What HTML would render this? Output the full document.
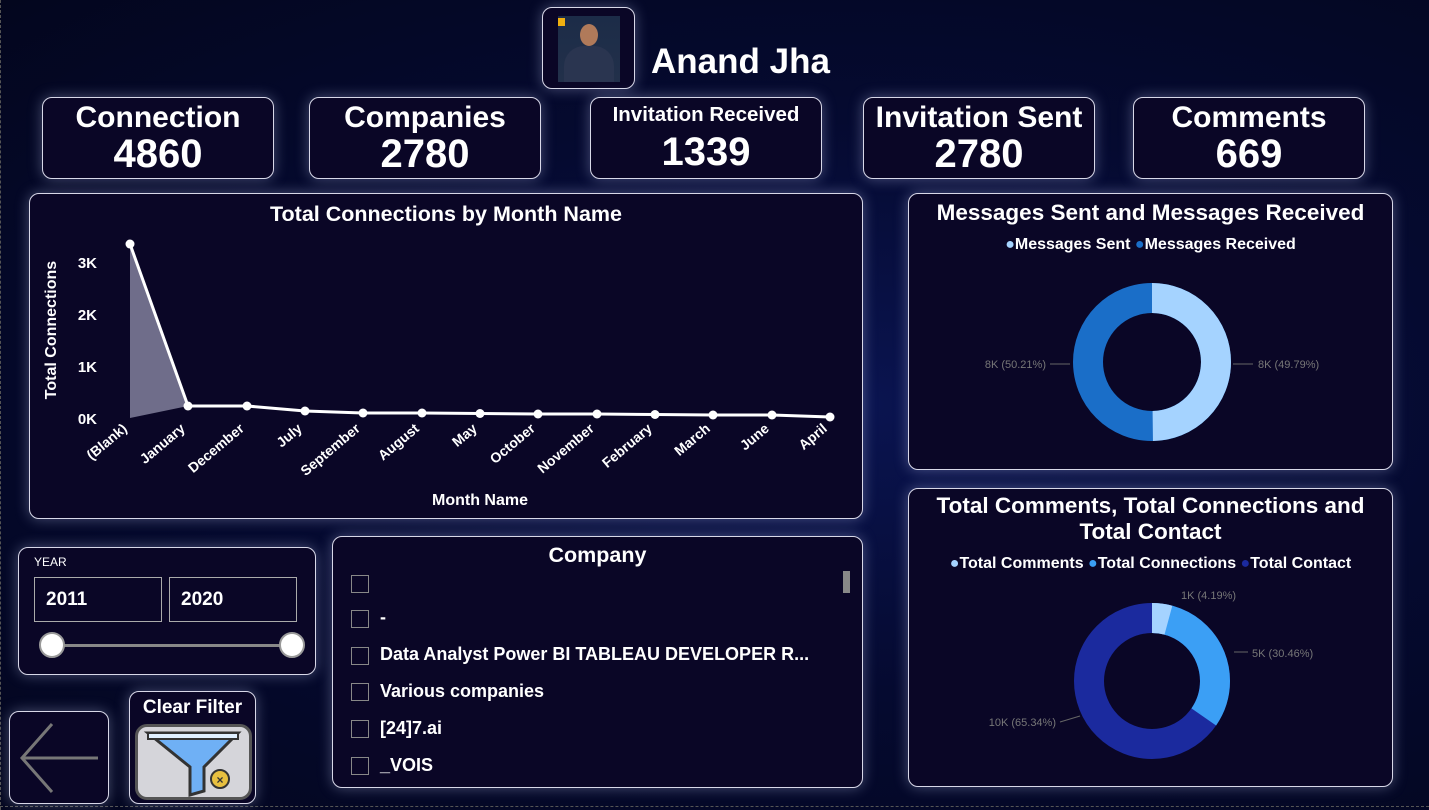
<!DOCTYPE html>
<html><head><meta charset="utf-8"><style>
*{box-sizing:border-box;margin:0;padding:0}
body{width:1429px;height:810px;overflow:hidden;background:radial-gradient(ellipse at 60% 50%,#0a1450 0%,#050a30 50%,#03061e 100%);font-family:"Liberation Sans",sans-serif;color:#fff;position:relative}
.p{position:absolute;background:#0a0626;border:1.5px solid #d8d8e8;border-radius:10px;box-shadow:0 0 14px rgba(200,210,255,0.35)}
.card{text-align:center;font-weight:bold}
.card .t{font-size:30px;margin-top:3px;white-space:nowrap}
.card .v{font-size:40px;line-height:38px}
.ttl{position:absolute;width:100%;text-align:center;font-weight:bold;font-size:21.5px}
.cb{position:absolute;left:351px;width:18px;height:18px;border:1.5px solid #888}
.it{position:absolute;left:380px;font-size:18px;font-weight:bold}
</style></head><body>
<div style="position:absolute;left:0;top:0;width:1px;height:810px;border-left:1px dashed #555"></div>
<div style="position:absolute;left:0;top:806px;width:1429px;border-top:1px dashed #555"></div>
<div class="p" style="left:542px;top:7px;width:93px;height:82px">
<div style="position:absolute;left:15px;top:8px;width:62px;height:66px;background:linear-gradient(#1c2c48,#22304a);overflow:hidden">
<div style="position:absolute;left:22px;top:8px;width:18px;height:22px;border-radius:50%;background:#b07a5a"></div>
<div style="position:absolute;left:6px;top:30px;width:50px;height:40px;border-radius:20px 20px 0 0;background:#2a3550"></div>
<div style="position:absolute;left:0;top:2px;width:7px;height:8px;background:#f0b010"></div></div></div>
<div style="position:absolute;left:651px;top:42px;font-size:35px;font-weight:bold">Anand Jha</div>

<div class="p card" style="left:42px;top:97px;width:232px;height:82px"><div class="t">Connection</div><div class="v">4860</div></div>
<div class="p card" style="left:309px;top:97px;width:232px;height:82px"><div class="t">Companies</div><div class="v">2780</div></div>
<div class="p card" style="left:590px;top:97px;width:232px;height:82px"><div class="t" style="font-size:20.5px;margin-top:5px">Invitation Received</div><div class="v" style="margin-top:6px">1339</div></div>
<div class="p card" style="left:863px;top:97px;width:232px;height:82px"><div class="t">Invitation Sent</div><div class="v">2780</div></div>
<div class="p card" style="left:1133px;top:97px;width:232px;height:82px"><div class="t">Comments</div><div class="v">669</div></div>

<div class="p" style="left:29px;top:193px;width:834px;height:326px">
<div class="ttl" style="top:8px">Total Connections by Month Name</div></div>
<svg style="position:absolute;left:0;top:0" width="1429" height="810">
<g font-family="Liberation Sans" font-weight="bold" fill="#fff" font-size="15">
<text x="97" y="268" text-anchor="end">3K</text><text x="97" y="320" text-anchor="end">2K</text><text x="97" y="372" text-anchor="end">1K</text><text x="97" y="424" text-anchor="end">0K</text>
<text transform="translate(56,330) rotate(-90)" text-anchor="middle" font-size="16">Total Connections</text>
<text x="480" y="505" text-anchor="middle" font-size="16">Month Name</text>
</g>
<polygon fill="#6f6d8a" points="130,244 188,406 130,418"/>
<polyline fill="none" stroke="#fff" stroke-width="3" points="130,244 188,406 247,406 305,411 363,413 422,413 480,413.5 538,414 597,414 655,414.5 713,415 772,415 830,417"/>
<g fill="#fff"><circle cx="130" cy="244" r="4.5"/><circle cx="188" cy="406" r="4.5"/><circle cx="247" cy="406" r="4.5"/><circle cx="305" cy="411" r="4.5"/><circle cx="363" cy="413" r="4.5"/><circle cx="422" cy="413" r="4.5"/><circle cx="480" cy="413.5" r="4.5"/><circle cx="538" cy="414" r="4.5"/><circle cx="597" cy="414" r="4.5"/><circle cx="655" cy="414.5" r="4.5"/><circle cx="713" cy="415" r="4.5"/><circle cx="772" cy="415" r="4.5"/><circle cx="830" cy="417" r="4.5"/></g>
<g font-family="Liberation Sans" font-weight="bold" fill="#fff" font-size="14" text-anchor="end">
<text transform="translate(128,430) rotate(-40)">(Blank)</text><text transform="translate(186,430) rotate(-40)">January</text><text transform="translate(245,430) rotate(-40)">December</text><text transform="translate(303,430) rotate(-40)">July</text><text transform="translate(361,430) rotate(-40)">September</text><text transform="translate(420,430) rotate(-40)">August</text><text transform="translate(478,430) rotate(-40)">May</text><text transform="translate(536,430) rotate(-40)">October</text><text transform="translate(595,430) rotate(-40)">November</text><text transform="translate(653,430) rotate(-40)">February</text><text transform="translate(711,430) rotate(-40)">March</text><text transform="translate(770,430) rotate(-40)">June</text><text transform="translate(828,430) rotate(-40)">April</text>
</g>
</svg>

<div class="p" style="left:908px;top:193px;width:485px;height:277px">
<div class="ttl" style="top:6px;font-size:22.5px">Messages Sent and Messages Received</div>
<div style="position:absolute;top:42px;width:100%;text-align:center;font-size:16px;font-weight:bold"><span style="color:#a5d3ff">●</span>Messages Sent <span style="color:#1a6ec8">●</span>Messages Received</div></div>
<div class="p" style="left:908px;top:488px;width:485px;height:299px">
<div class="ttl" style="top:4px;line-height:26px;font-size:22.5px">Total Comments, Total Connections and<br>Total Contact</div>
<div style="position:absolute;top:66px;width:100%;text-align:center;font-size:16px;font-weight:bold"><span style="color:#a5d3ff">●</span>Total Comments <span style="color:#3b9ff5">●</span>Total Connections <span style="color:#1b2a9e">●</span>Total Contact</div></div>
<svg style="position:absolute;left:0;top:0" width="1429" height="810">
<g fill="none" stroke-width="30">
<circle cx="1152" cy="362" r="64" stroke="#1a6ec8"/>
<circle cx="1152" cy="362" r="64" stroke="#a5d3ff" stroke-dasharray="200.2 402.1" transform="rotate(-90 1152 362)"/>
<circle cx="1152" cy="681" r="63" stroke="#1b2a9e"/>
<circle cx="1152" cy="681" r="63" stroke="#3b9ff5" stroke-dasharray="137.1 395.8" transform="rotate(-90 1152 681)"/>
<circle cx="1152" cy="681" r="63" stroke="#a5d3ff" stroke-dasharray="16.6 395.8" transform="rotate(-90 1152 681)"/>
</g>
<g font-family="Liberation Sans" font-size="11" fill="#777">
<text x="1258" y="368">8K (49.79%)</text><text x="1046" y="368" text-anchor="end">8K (50.21%)</text>
<text x="1181" y="599">1K (4.19%)</text><text x="1252" y="657">5K (30.46%)</text><text x="1056" y="726" text-anchor="end">10K (65.34%)</text>
</g>
<g stroke="#666" fill="none"><line x1="1233" y1="364" x2="1253" y2="364"/><line x1="1050" y1="364" x2="1070" y2="364"/><line x1="1234" y1="652" x2="1248" y2="652"/><line x1="1060" y1="722" x2="1080" y2="716"/></g>
</svg>

<div class="p" style="left:18px;top:547px;width:298px;height:128px">
<div style="position:absolute;left:15px;top:7px;font-size:12px">YEAR</div>
<div style="position:absolute;left:15px;top:29px;width:128px;height:45px;border:1px solid #aaa;font-size:19px;font-weight:bold;padding:11px 0 0 11px">2011</div>
<div style="position:absolute;left:150px;top:29px;width:128px;height:45px;border:1px solid #aaa;font-size:19px;font-weight:bold;padding:11px 0 0 11px">2020</div>
<div style="position:absolute;left:32px;top:96px;width:242px;height:3px;background:#888"></div>
<div style="position:absolute;left:20px;top:84px;width:26px;height:26px;border-radius:50%;background:#fff;border:2px solid #999"></div>
<div style="position:absolute;left:260px;top:84px;width:26px;height:26px;border-radius:50%;background:#fff;border:2px solid #999"></div>
</div>

<div class="p" style="left:332px;top:536px;width:531px;height:252px">
<div class="ttl" style="top:6px">Company</div>
<div style="position:absolute;left:510px;top:34px;width:7px;height:22px;background:#888"></div></div>
<div class="cb" style="top:575px"></div>
<div class="cb" style="top:610px"></div><div class="it" style="top:607px">-</div>
<div class="cb" style="top:647px"></div><div class="it" style="top:644px">Data Analyst Power BI TABLEAU DEVELOPER R...</div>
<div class="cb" style="top:683px"></div><div class="it" style="top:681px">Various companies</div>
<div class="cb" style="top:720px"></div><div class="it" style="top:718px">[24]7.ai</div>
<div class="cb" style="top:757px"></div><div class="it" style="top:755px">_VOIS</div>

<div class="p" style="left:9px;top:711px;width:100px;height:93px">
<svg width="100" height="93"><g stroke="#777" stroke-width="3" fill="none"><line x1="12" y1="46" x2="88" y2="46"/><polyline points="42,12 12,46 42,80"/></g></svg></div>
<div class="p" style="left:129px;top:691px;width:127px;height:113px">
<div style="position:absolute;width:100%;text-align:center;top:5px;font-size:19px;font-weight:bold">Clear Filter</div>
<div style="position:absolute;left:5px;top:32px;width:117px;height:76px;border-radius:12px;background:#d5d5da;border:3px solid #555">
<svg width="111" height="70"><polygon points="10,6 100,6 66,40 66,64 52,68 52,40" fill="#6fb0f5" stroke="#333" stroke-width="3"/><rect x="10" y="6" width="90" height="6" fill="#e0f0ff" stroke="#333" stroke-width="2"/><circle cx="82" cy="52" r="9" fill="#e8c040" stroke="#333" stroke-width="2"/><text x="82" y="57" font-size="12" text-anchor="middle" font-weight="bold" fill="#333" font-family="Liberation Sans">×</text></svg></div></div>
</body></html>
